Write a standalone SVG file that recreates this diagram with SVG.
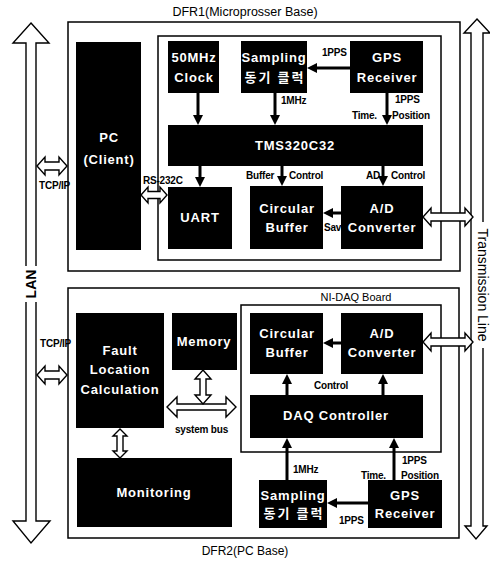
<svg xmlns="http://www.w3.org/2000/svg" width="490" height="563" viewBox="0 0 490 563">
<defs>
<marker id="ah" markerWidth="10" markerHeight="10" refX="3" refY="5" orient="auto" markerUnits="userSpaceOnUse"><path d="M0,0 L10,5 L0,10 z" fill="#000"/></marker>
<style>
.frame{fill:none;stroke:#000;stroke-width:1.5}
.blk{fill:#000}
.bt{fill:#fff;font-family:"Liberation Sans","Noto Sans CJK KR",sans-serif;font-weight:bold;font-size:13px;letter-spacing:0.8px;text-anchor:middle}
.kr{font-family:"Noto Sans CJK KR",sans-serif;letter-spacing:2px}
.sl{fill:#000;font-family:"Liberation Sans",sans-serif;font-weight:bold;font-size:10px;letter-spacing:-0.2px}
.tt{fill:#000;font-family:"Liberation Sans",sans-serif;font-size:12.5px;text-anchor:middle}
.ar{stroke:#000;stroke-width:3;fill:none;marker-end:url(#ah)}
.ha{fill:#fff;stroke:#000;stroke-width:1.4;stroke-linejoin:miter}
</style>
</defs>
<rect width="490" height="563" fill="#fff"/>

<g id="frames">
<rect class="frame" x="68" y="22" width="392" height="249"/>
<rect class="frame" x="158" y="36" width="283" height="224"/>
<rect class="frame" x="68" y="288" width="391" height="250"/>
<rect class="frame" x="241" y="305" width="200" height="147"/>
<text class="tt" x="245" y="16">DFR1(Microprosser Base)</text>
<text class="tt" x="245" y="555" style="font-size:12px">DFR2(PC Base)</text>
<text class="tt" x="356" y="301" style="font-size:11px">NI-DAQ Board</text>
</g>

<g id="lan">
<polygon class="ha" points="31,23 49,43 36,43 36,521 50,521 31,543 13,521 26,521 26,43 13,43"/>
<rect x="24" y="266" width="14" height="36" fill="#fff"/>
<text x="0" y="0" transform="translate(36,284) rotate(-90)" style="font-family:'Liberation Sans',sans-serif;font-weight:bold;font-size:14px;text-anchor:middle">LAN</text>
</g>

<g id="transmission-line">
<polygon class="ha" points="477,19 490,33 483,33 483,526 487,526 476,539 465,526 471,526 471,33 464,33"/>
<rect x="477" y="222" width="13" height="126" fill="#fff"/>
<text x="0" y="0" transform="translate(478,285) rotate(90)" style="font-family:'Liberation Sans',sans-serif;font-size:14px;text-anchor:middle">Transmission Line</text>
</g>

<g id="connectors">
<!-- hollow bus arrows -->
<polygon class="ha" points="37,166 45,157 45,162 59,162 59,157 67,166 59,175 59,170 45,170 45,175"/>
<polygon class="ha" points="37,375 45,366 45,371 59,371 59,366 67,375 59,384 59,379 45,379 45,384"/>
<polygon class="ha" points="141,195 148,187 148,191.5 160,191.5 160,187 167,195 160,203 160,198.5 148,198.5 148,203"/>
<polygon class="ha" points="423,217 431,208 431,213 465,213 465,208 473,217 465,226 465,221 431,221 431,226"/>
<polygon class="ha" points="423,342 431,333 431,338 465,338 465,333 473,342 465,351 465,346 431,346 431,351"/>
<polygon class="ha" points="167,407 177,397 177,404 226,404 226,397 236,407 226,417 226,410 177,410 177,417"/>
<polygon class="ha" points="203,370 211,379 206,379 206,395 211,395 203,404 195,395 200,395 200,379 195,379"/>
<polygon class="ha" points="120,429 127,436 123,436 123,451 127,451 120,458 113,451 117,451 117,436 113,436"/>

<!-- solid arrows DFR1 -->
<line class="ar" x1="198" y1="93" x2="198" y2="118"/>
<line class="ar" x1="275" y1="93" x2="275" y2="118"/>
<line class="ar" x1="350" y1="68" x2="314" y2="68"/>
<line class="ar" x1="387" y1="93" x2="387" y2="118"/>
<line class="ar" x1="200" y1="166" x2="200" y2="180"/>
<line class="ar" x1="282" y1="166" x2="282" y2="179"/>
<line class="ar" x1="383" y1="166" x2="383" y2="179"/>
<line class="ar" x1="341" y1="213" x2="330" y2="213"/>
<!-- solid arrows DFR2 -->
<line class="ar" x1="341" y1="343" x2="330" y2="343"/>
<line class="ar" x1="287" y1="395" x2="287" y2="381"/>
<line class="ar" x1="383" y1="395" x2="383" y2="381"/>
<line class="ar" x1="287" y1="480" x2="287" y2="445"/>
<line class="ar" x1="394" y1="480" x2="394" y2="445"/>
<line class="ar" x1="368" y1="503" x2="334" y2="503"/>

<!-- labels -->
<text class="sl" x="39" y="189">TCP/IP</text>
<text class="sl" x="40" y="347">TCP/IP</text>
<text class="sl" x="143" y="184">RS-232C</text>
<text class="sl" x="322" y="56">1PPS</text>
<text class="sl" x="281" y="104">1MHz</text>
<text class="sl" x="395" y="103">1PPS</text>
<text class="sl" x="352" y="119">Time.</text>
<text class="sl" x="392" y="119">Position</text>
<text class="sl" x="246" y="179">Buffer</text>
<text class="sl" x="289" y="179">Control</text>
<text class="sl" x="366" y="179">AD</text>
<text class="sl" x="391" y="179">Control</text>
<text class="sl" x="324" y="231">Save</text>
<text class="sl" x="314" y="389">Control</text>
<text class="sl" x="293" y="473">1MHz</text>
<text class="sl" x="402" y="464">1PPS</text>
<text class="sl" x="361" y="479">Time.</text>
<text class="sl" x="401" y="479">Position</text>
<text class="sl" x="339" y="524">1PPS</text>
<text class="sl" x="175" y="433">system bus</text>
</g>

<g id="pc-client">
<rect class="blk" x="76" y="42" width="65" height="208"/>
<text class="bt" x="109" y="142">PC</text>
<text class="bt" x="109" y="164">(Client)</text>
</g>
<g id="clock-50mhz">
<rect class="blk" x="168" y="41" width="51" height="52"/>
<text class="bt" x="194" y="62">50MHz</text>
<text class="bt" x="194" y="82">Clock</text>
</g>
<g id="sampling-1">
<rect class="blk" x="241" y="41" width="66" height="52"/>
<text class="bt" x="274" y="62">Sampling</text>
<text class="bt kr" x="275" y="82">동기 클럭</text>
</g>
<g id="gps-1">
<rect class="blk" x="350" y="41" width="73" height="52"/>
<text class="bt" x="387" y="62">GPS</text>
<text class="bt" x="387" y="82">Receiver</text>
</g>
<g id="tms320c32">
<rect class="blk" x="168" y="125" width="255" height="41"/>
<text class="bt" x="295" y="150">TMS320C32</text>
</g>
<g id="uart">
<rect class="blk" x="168" y="187" width="64" height="62"/>
<text class="bt" x="200" y="222">UART</text>
</g>
<g id="circular-buffer-1">
<rect class="blk" x="250" y="186" width="73" height="63"/>
<text class="bt" x="287" y="213">Circular</text>
<text class="bt" x="287" y="232">Buffer</text>
</g>
<g id="ad-converter-1">
<rect class="blk" x="341" y="186" width="82" height="63"/>
<text class="bt" x="382" y="213">A/D</text>
<text class="bt" x="382" y="232">Converter</text>
</g>

<g id="fault-location">
<rect class="blk" x="76" y="313" width="88" height="115"/>
<text class="bt" x="120" y="355">Fault</text>
<text class="bt" x="120" y="374">Location</text>
<text class="bt" x="120" y="394">Calculation</text>
</g>
<g id="memory">
<rect class="blk" x="172" y="313" width="65" height="57"/>
<text class="bt" x="204" y="346">Memory</text>
</g>
<g id="monitoring">
<rect class="blk" x="77" y="458" width="155" height="69"/>
<text class="bt" x="154" y="497">Monitoring</text>
</g>
<g id="circular-buffer-2">
<rect class="blk" x="250" y="313" width="73" height="61"/>
<text class="bt" x="287" y="338">Circular</text>
<text class="bt" x="287" y="357">Buffer</text>
</g>
<g id="ad-converter-2">
<rect class="blk" x="341" y="313" width="82" height="61"/>
<text class="bt" x="382" y="338">A/D</text>
<text class="bt" x="382" y="357">Converter</text>
</g>
<g id="daq-controller">
<rect class="blk" x="250" y="395" width="173" height="43"/>
<text class="bt" x="336" y="420">DAQ Controller</text>
</g>
<g id="sampling-2">
<rect class="blk" x="259" y="480" width="68" height="48"/>
<text class="bt" x="293" y="500">Sampling</text>
<text class="bt kr" x="294" y="518">동기 클럭</text>
</g>
<g id="gps-2">
<rect class="blk" x="368" y="480" width="74" height="48"/>
<text class="bt" x="405" y="500">GPS</text>
<text class="bt" x="405" y="518">Receiver</text>
</g>
</svg>
